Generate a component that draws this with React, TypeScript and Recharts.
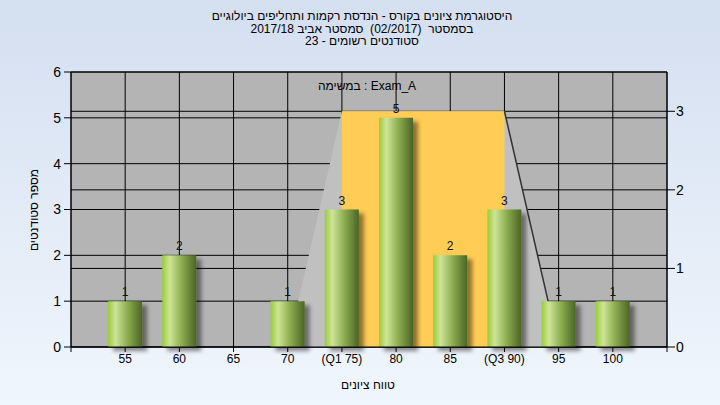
import React from 'react';
import {
  ComposedChart,
  Bar,
  Area,
  XAxis,
  YAxis,
  CartesianGrid,
  LabelList,
} from 'recharts';

// grade buckets and how many students landed in each
const grades = [55, 60, 65, 70, 75, 80, 85, 90, 95, 100];
const students = [1, 2, 0, 1, 3, 5, 2, 3, 1, 1];
// quartile overlay, read against the right axis
const spread = [null, null, null, 0, 3, 3, 3, 3, 0, null];
const iqrBox = [null, null, null, null, 3, 3, 3, 3, null, null];
const upperEdge = [null, null, null, null, null, null, null, 3, 0, null];

const xTicks = [50, 55, 60, 65, 70, 75, 80, 85, 90, 95, 100, 105];
const xTickLabels = ['', '55', '60', '65', '70', '(Q1 75)', '80', '85', '(Q3 90)', '95', '100', ''];
const leftTicks = [0, 1, 2, 3, 4, 5, 6];
const rightTicks = [0, 1, 2, 3];

const titleLines = [
  'היסטוגרמת ציונים בקורס - הנדסת רקמות ותחליפים ביולוגיים',
  'בסמסטר  (02/2017)  סמסטר אביב 2017/18',
  'סטודנטים רשומים - 23',
];
const legendText = 'במשימה : Exam_A';
const yTitle = 'מספר סטודנטים';
const xTitle = 'טווח ציונים';

const data = grades.map((g, i) => ({
  grade: g,
  count: students[i],
  spread: spread[i],
  iqr: iqrBox[i],
  edge: upperEdge[i],
}));

const FONT = '"Liberation Sans", Arial, sans-serif';

const App: React.FC = () => {
  return (
    <div
      style={{
        position: 'fixed',
        left: 0,
        top: 0,
        width: 720,
        height: 405,
        background: 'linear-gradient(to bottom, #d4dff0, #f0f6fd)',
        fontFamily: FONT,
        overflow: 'hidden',
      }}
    >
      <svg width={0} height={0} style={{ position: 'absolute' }}>
        <defs>
          <linearGradient id="barFill" x1="0" y1="0" x2="1" y2="0">
            <stop offset="0%" stopColor="#9ccb3b" />
            <stop offset="22%" stopColor="#cde596" />
            <stop offset="60%" stopColor="#88a84c" />
            <stop offset="100%" stopColor="#4b6526" />
          </linearGradient>
          <filter id="barShadow" x="-20%" y="-20%" width="160%" height="140%">
            <feDropShadow dx="5" dy="4" stdDeviation="2" floodColor="#000" floodOpacity="0.45" />
          </filter>
        </defs>
      </svg>

      <div
        style={{
          position: 'absolute',
          top: 10,
          left: 0,
          width: 724,
          textAlign: 'center',
          fontSize: 12,
          lineHeight: '12.5px',
          color: '#000',
          whiteSpace: 'pre',
        }}
      >
        {titleLines.map((t, i) => (
          <div key={i}>{t}</div>
        ))}
      </div>

      <ComposedChart
        width={720}
        height={405}
        data={data}
        margin={{ top: 72, right: 0, bottom: 28, left: 0 }}
      >
        <CartesianGrid yAxisId="left" fill="#b4b4b4" stroke="#000" strokeOpacity={1} />
        <CartesianGrid yAxisId="right" vertical={false} stroke="#000" />
        <XAxis
          dataKey="grade"
          type="number"
          domain={[50, 105]}
          ticks={xTicks}
          interval={0}
          tickFormatter={(v: number) => xTickLabels[xTicks.indexOf(v)] ?? ''}
          tick={{ fill: '#000', fontSize: 12, fontFamily: FONT }}
          tickSize={5}
          tickMargin={2}
          height={30}
          stroke="#000"
        />
        <YAxis
          yAxisId="left"
          orientation="left"
          domain={[0, 6]}
          ticks={leftTicks}
          width={71}
          tickSize={7}
          tickMargin={3}
          tick={{ fill: '#000', fontSize: 14, fontFamily: FONT }}
          stroke="#000"
        />
        <YAxis
          yAxisId="right"
          orientation="right"
          domain={[0, 3.5]}
          ticks={rightTicks}
          allowDataOverflow
          width={53}
          tickSize={8}
          tickMargin={1}
          tick={{ fill: '#000', fontSize: 14, fontFamily: FONT }}
          stroke="#000"
        />
        <Area
          yAxisId="right"
          dataKey="spread"
          type="linear"
          fill="#c0c0c0"
          fillOpacity={1}
          stroke="none"
          isAnimationActive={false}
        />
        <Area
          yAxisId="right"
          dataKey="iqr"
          type="linear"
          fill="#ffcc55"
          fillOpacity={1}
          stroke="none"
          isAnimationActive={false}
        />
        {/* right slope of the spread shape, kept under the bars */}
        <Area
          yAxisId="right"
          dataKey="edge"
          type="linear"
          fill="none"
          fillOpacity={0}
          stroke="#333"
          strokeWidth={1.5}
          dot={false}
          activeDot={false}
          isAnimationActive={false}
        />
        <Bar
          yAxisId="left"
          dataKey="count"
          barSize={34}
          fill="url(#barFill)"
          filter="url(#barShadow)"
          isAnimationActive={false}
        >
          <LabelList
            dataKey="count"
            position="top"
            offset={5}
            fill="#111"
            fontSize={12}
            fontFamily={FONT}
            formatter={(v: number) => (v ? v : '')}
          />
        </Bar>
      </ComposedChart>

      <div
        style={{
          position: 'absolute',
          left: 367,
          top: 86,
          transform: 'translate(-50%, -50%)',
          fontSize: 12,
          color: '#000',
          whiteSpace: 'nowrap',
        }}
      >
        {legendText}
      </div>
      <div
        style={{
          position: 'absolute',
          left: 34,
          top: 210,
          transform: 'translate(-50%, -50%) rotate(-90deg)',
          fontSize: 12,
          color: '#000',
          whiteSpace: 'nowrap',
        }}
      >
        {yTitle}
      </div>
      <div
        style={{
          position: 'absolute',
          left: 368,
          top: 385,
          transform: 'translate(-50%, -50%)',
          fontSize: 12,
          color: '#000',
          whiteSpace: 'nowrap',
        }}
      >
        {xTitle}
      </div>
    </div>
  );
};

export default App;
